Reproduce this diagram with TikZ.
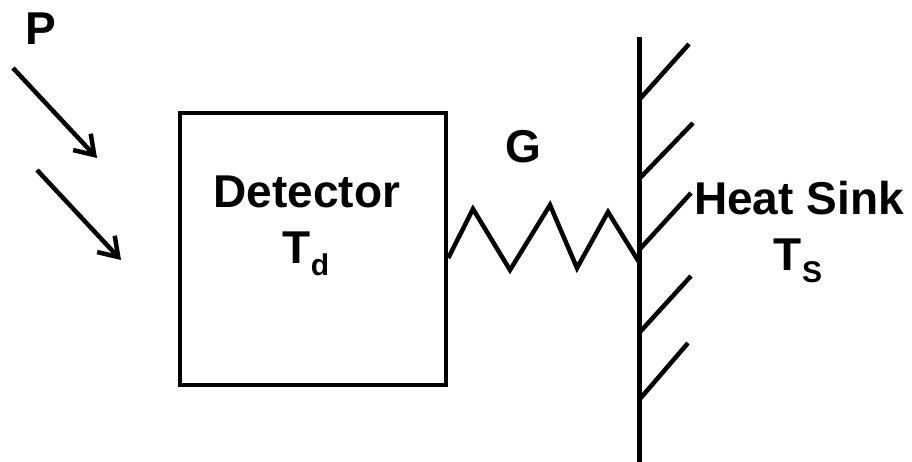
\documentclass[tikz,border=0pt]{standalone}
\usepackage{fontspec}
\setmainfont{Liberation Sans}
\usetikzlibrary{arrows.meta,calc}
\tikzset{
  lbl/.style={inner sep=0pt, anchor=base, font=\fontsize{46}{50}\selectfont\bfseries},
  detbox/.style={draw, line width=4.5pt, minimum width=266pt, minimum height=272pt, inner sep=0pt},
  ray/.style={line width=4.5pt, -{Straight Barb[length=18pt,width=24pt]}},
  wire/.style={line width=4.5pt, line join=miter},
  hatch/.style={line width=4.5pt}
}
\newcommand{\subtxt}[1]{\raisebox{-12pt}{\fontsize{30}{32}\selectfont\bfseries #1}}
\begin{document}
\begin{tikzpicture}[x=1pt,y=-1pt]
\useasboundingbox (0,0) rectangle (912,462);
% detector box
\node[detbox] (det) at (313,249) {};
\node[lbl] (dettxt) at (307,208) {Detector};
\node[lbl] (dettemp) at (306,263) {T\subtxt{d}};
% labels
\node[lbl] (P) at (41,45) {P};
\node[lbl] (G) at (523,163) {G};
\node[lbl] (hs) at (799,215) {Heat Sink};
\node[lbl] (hstemp) at (798,270) {T\subtxt{S}};
% incoming rays
\coordinate (r1s) at (13,68);
\coordinate (r1e) at (97,158);
\coordinate (r2s) at (37,170);
\coordinate (r2e) at (121,260);
\draw[ray] (r1s) -- (r1e);
\draw[ray] (r2s) -- (r2e);
% wall
\coordinate (wtop) at (639,37);
\coordinate (wbot) at (639,462);
\coordinate (wcon) at (639,262);
\draw[line width=5pt] (wtop) -- (wbot);
\draw[hatch] (639,100) -- (689,44);
\draw[hatch] (639,179) -- (693,123);
\draw[hatch] (639,250) -- (691,193);
\draw[hatch] (639,333) -- (691,276);
\draw[hatch] (639,400) -- (688,343);
% thermal link (zigzag)
\draw[wire] ([yshift=-9pt]det.east) -- (473,209) -- (510,270) -- (550,205) -- (577,268) -- (608,212) -- (wcon);
\end{tikzpicture}
\end{document}
